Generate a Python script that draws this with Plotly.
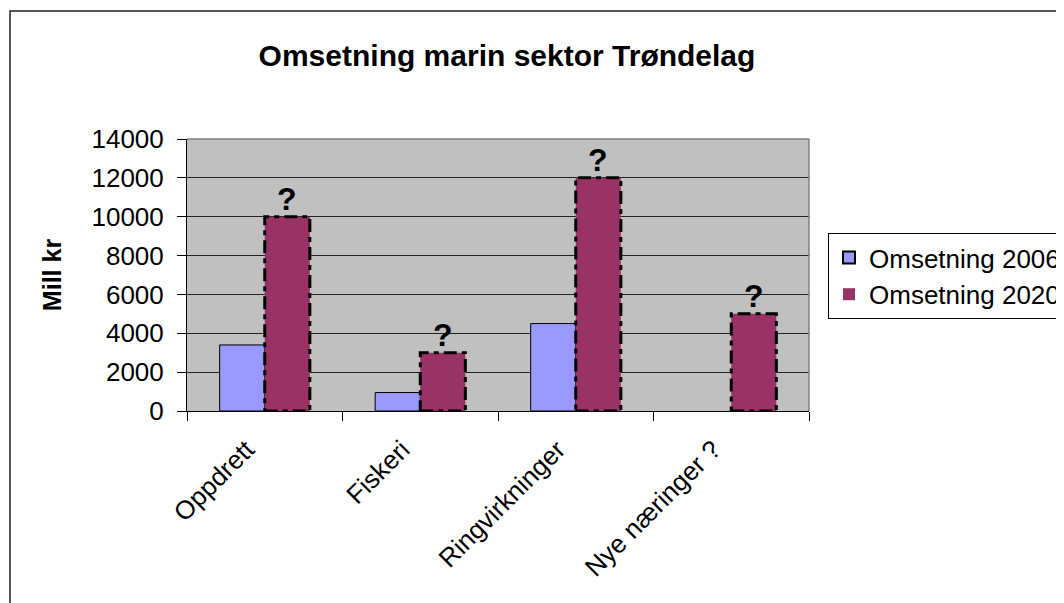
import plotly.graph_objects as go

categories = ["Oppdrett", "Fiskeri", "Ringvirkninger", "Nye næringer ?"]
omsetning_2006 = [3400, 950, 4500, None]
omsetning_2020 = [10000, 3000, 12000, 5000]
series_names = ["Omsetning 2006", "Omsetning 2020"]
y_ticks = [0, 2000, 4000, 6000, 8000, 10000, 12000, 14000]
question_label = "?"

FONT = "Arial, Liberation Sans, sans-serif"
BARGAP = 0.42

OFF = 8  # page body margin
W, H = 1064 - OFF, 603 - OFF
L, R, T, B = 187 - OFF, 809 - OFF, 139 - OFF, 411 - OFF

fig = go.Figure()
fig.add_trace(go.Bar(
    x=categories, y=omsetning_2006, name=series_names[0],
    marker=dict(color="#9999FF", line=dict(color="black", width=1)),
))
fig.add_trace(go.Bar(
    x=categories, y=omsetning_2020, name=series_names[1],
    marker=dict(color="#993366", line=dict(color="black", width=0)),
))

shapes = []
half = (1 - BARGAP) / 2
for i, v in enumerate(omsetning_2020):
    shapes.append(dict(
        type="rect", xref="x", yref="y", x0=i, x1=i + half, y0=0, y1=v,
        line=dict(color="black", width=3, dash="13px,5px,5px,5px"),
        fillcolor="rgba(0,0,0,0)", layer="above",
    ))

annotations = []
for i, v in enumerate(omsetning_2020):
    annotations.append(dict(
        x=i + half / 2, y=v, xref="x", yref="y", text="<b>" + question_label + "</b>",
        showarrow=False, yanchor="bottom", xanchor="center",
        font=dict(family=FONT, size=32, color="black"), yshift=-2,
    ))

pw = R - L
ph = B - T
shapes.append(dict(type="line", xref="paper", yref="paper", x0=0, x1=1, y0=1, y1=1,
                   line=dict(color="#808080", width=1.5)))
shapes.append(dict(type="line", xref="paper", yref="paper", x0=1, x1=1, y0=0, y1=1,
                   line=dict(color="#808080", width=1.5)))
shapes.append(dict(type="rect", xref="paper", yref="paper",
                   x0=(10 - OFF - L) / pw, x1=(W + 20 - L) / pw,
                   y0=(B - (H + 20)) / ph, y1=(B - (11 - OFF)) / ph,
                   line=dict(color="#222222", width=1.5), fillcolor="rgba(0,0,0,0)"))

fig.update_layout(
    width=W, height=H,
    margin=dict(l=L, r=W - R, t=T, b=H - B, autoexpand=False),
    paper_bgcolor="white", plot_bgcolor="#C0C0C0",
    barmode="group", bargap=BARGAP, bargroupgap=0,
    font=dict(family=FONT, size=26, color="black"),
    title=dict(text="<b>Omsetning marin sektor Trøndelag</b>", x=(507 - OFF) / W, xanchor="center",
               y=1 - (55 - OFF) / H, yanchor="middle", font=dict(family=FONT, size=30, color="black")),
    legend=dict(x=(828 - OFF - L) / pw, y=(B - (233 - OFF)) / ph, xanchor="left", yanchor="top",
                bordercolor="black", borderwidth=1, bgcolor="white",
                font=dict(family=FONT, size=26), tracegroupgap=0, itemsizing="constant"),
    showlegend=True,
    shapes=shapes, annotations=annotations,
)
fig.update_xaxes(
    type="category", tickson="boundaries", ticks="outside", ticklen=9, tickcolor="black",
    showline=True, linecolor="black", linewidth=1, tickangle=-45, showgrid=False,
    tickfont=dict(family=FONT, size=26), ticklabelshift=-18, ticklabelstandoff=12,
)
fig.update_yaxes(
    range=[0, 14000], tickvals=y_ticks, tickformat="d", ticks="outside", ticklen=9, tickcolor="black",
    showline=True, linecolor="black", linewidth=1, showgrid=True, gridcolor="#222222",
    gridwidth=1, zeroline=False, tickfont=dict(family=FONT, size=26), ticklabelstandoff=8,
    title=dict(text="<b>Mill kr</b>", font=dict(family=FONT, size=25), standoff=22),
)

fig.write_html("out.html")
